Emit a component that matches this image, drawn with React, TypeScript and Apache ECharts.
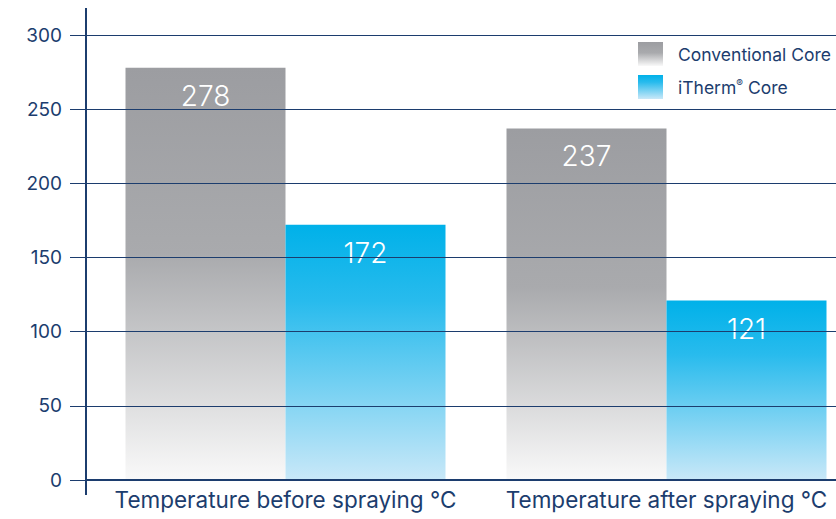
import React, { useEffect, useRef } from "react";
import * as echarts from "echarts";

const categories = ["Temperature before spraying °C", "Temperature after spraying °C"];
const conventionalValues = [278, 237];
const ithermValues = [172, 121];
const seriesNames = ["Conventional Core", "iTherm® Core"];
const yMin = 0;
const yMax = 300;
const yInterval = 50;

const NAVY = "#1c3d6e";

export default function App() {
  const ref = useRef<HTMLDivElement>(null);
  useEffect(() => {
    if (!ref.current) return;
    const chart = echarts.init(ref.current, undefined, { renderer: "svg" });
    const grayGrad = new echarts.graphic.LinearGradient(0, 0, 0, 1, [
      { offset: 0, color: "#9c9da1" },
      { offset: 0.45, color: "#a9aaad" },
      { offset: 1, color: "#f9f9f9" },
    ]);
    const blueGrad = new echarts.graphic.LinearGradient(0, 0, 0, 1, [
      { offset: 0, color: "#00b1e9" },
      { offset: 0.3, color: "#28bbed" },
      { offset: 1, color: "#c9e8f8" },
    ]);
    const labelStyle = {
      show: true,
      position: "insideTop" as const,
      distance: 14,
      color: "#ffffff",
      fontSize: 28,
      fontWeight: 300 as any,
      fontFamily: "Inter",
    };
    chart.setOption({
      animation: false,
      textStyle: { fontFamily: "Inter" },
      grid: [
        { left: 86, right: 0, top: 35, bottom: 39, outerBoundsMode: "none" },
        { left: 95, right: -21, top: 35, bottom: 39, outerBoundsMode: "none" },
      ],
      xAxis: [
        {
          gridIndex: 0,
          type: "value",
          show: true,
          min: 0,
          max: 1,
          axisLine: { show: true, onZero: false, lineStyle: { color: NAVY, width: 2 } },
          axisTick: { show: false },
          axisLabel: { show: false },
          splitLine: { show: false },
          z: 10,
        },
        {
          gridIndex: 1,
          type: "category",
          data: categories,
          axisLine: { show: false },
          axisTick: { show: false },
          axisLabel: { color: NAVY, fontSize: 22.5, margin: 8, interval: 0, fontFamily: "Inter" },
        },
      ],
      yAxis: [
        {
          gridIndex: 0,
          type: "value",
          min: yMin,
          max: yMax,
          interval: yInterval,
          z: 10,
          axisLine: { show: false },
          axisTick: { show: true, length: 16, inside: false, lineStyle: { color: NAVY, width: 1 } },
          axisLabel: { color: NAVY, fontSize: 19, margin: 24, fontFamily: "Inter" },
          splitLine: { show: true, lineStyle: { color: NAVY, width: 1 } },
        },
        {
          gridIndex: 1,
          type: "value",
          min: yMin,
          max: yMax,
          interval: yInterval,
          show: false,
        },
      ],
      legend: {
        orient: "vertical",
        left: 633,
        top: 37,
        itemWidth: 25,
        itemHeight: 24,
        itemGap: 9,
        icon: "rect",
        textStyle: {
          color: NAVY,
          fontSize: 17.5,
          fontFamily: "Inter",
          padding: [0, 0, 0, 10],
          rich: { sup: { fontSize: 10, verticalAlign: "top", color: NAVY, padding: [0, 0, 8, 0] } },
        },
        formatter: (name: string) => name.replace("®", "{sup|®}"),
        data: seriesNames,
      },
      graphic: [
        {
          type: "line",
          shape: { x1: 86, y1: 8, x2: 86, y2: 495 },
          style: { stroke: NAVY, lineWidth: 2 },
          z: 20,
        },
      ],
      series: [
        {
          name: seriesNames[0],
          type: "bar",
          xAxisIndex: 1,
          yAxisIndex: 1,
          barWidth: 160,
          barGap: "0%",
          data: conventionalValues,
          itemStyle: { color: grayGrad },
          label: labelStyle,
        },
        {
          name: seriesNames[1],
          type: "bar",
          xAxisIndex: 1,
          yAxisIndex: 1,
          barWidth: 160,
          barGap: "0%",
          data: ithermValues,
          itemStyle: { color: blueGrad },
          label: labelStyle,
        },
      ],
    });
    return () => chart.dispose();
  }, []);
  return (
    <div
      ref={ref}
      style={{ position: "fixed", left: 0, top: 0, width: 836, height: 519, background: "#fff" }}
    />
  );
}
